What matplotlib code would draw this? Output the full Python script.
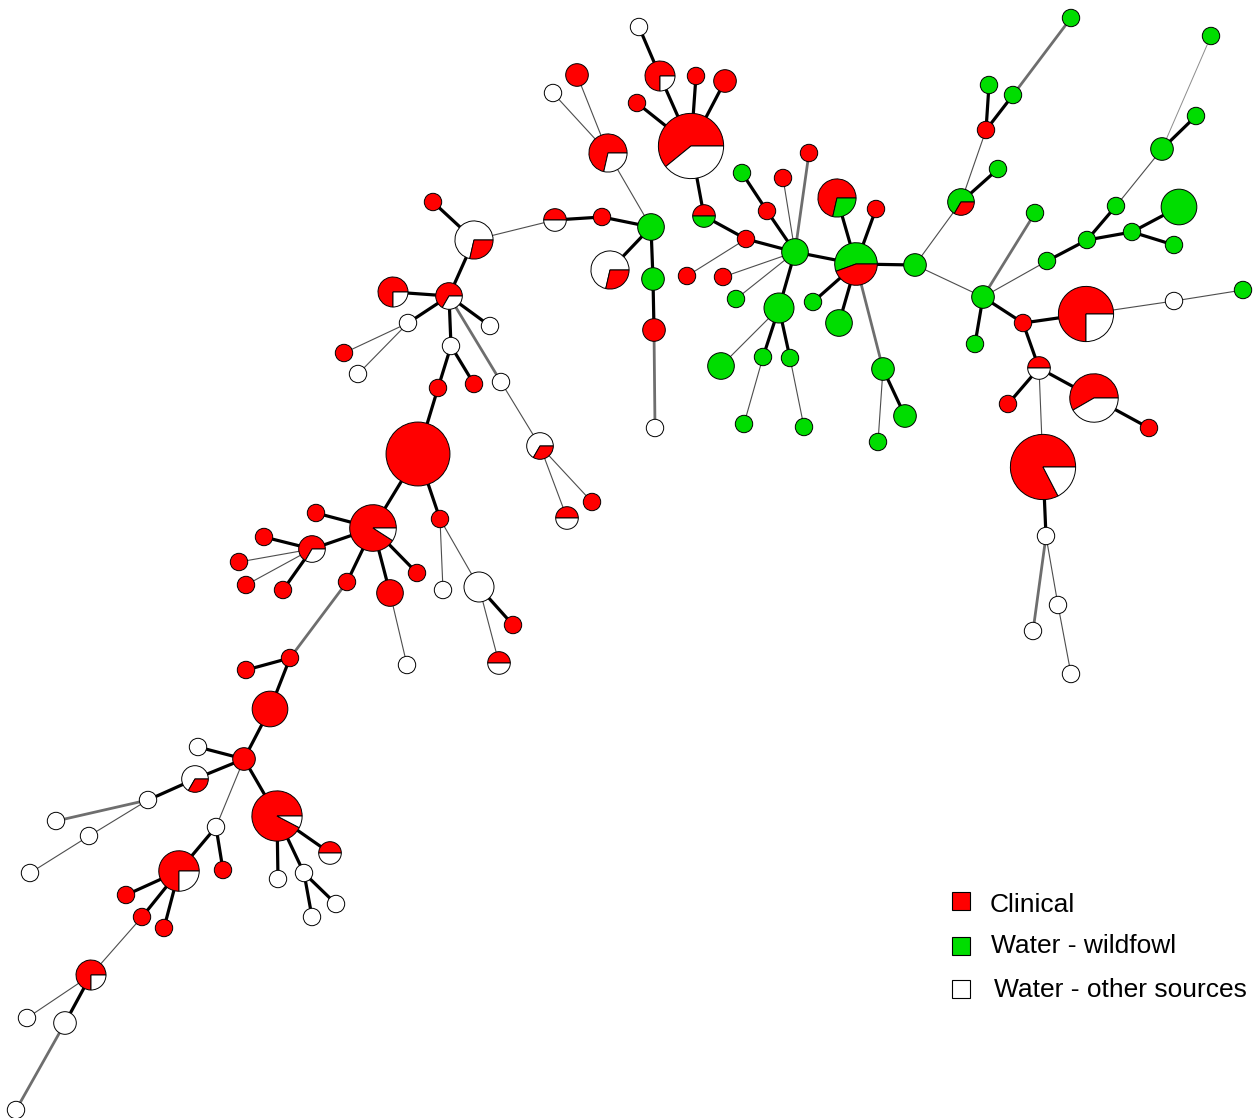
import matplotlib
matplotlib.use("Agg")
import matplotlib.pyplot as plt
from matplotlib.patches import Wedge, Circle, Rectangle
import numpy as np

# sequence types: id, layout position (y grows downward) and isolate counts per source
node_id = ["A1", "A2", "A3", "A4", "A5", "A6", "A7", "A8", "A9", "A10",
           "A11", "A12", "A13", "A14", "A15", "A16", "A17", "A18", "G1", "A19",
           "A20", "A22", "A23", "A24", "A25", "B1", "B2", "B3", "B4", "B5",
           "B6", "B7", "H1", "H2", "B8", "B9", "B10", "B11", "B12", "B13",
           "B14", "B15", "B16", "B17", "B18", "B19", "B20", "B21", "B22", "B23",
           "B24", "B25", "B26", "C1", "C2", "C3", "C4", "C5", "C6", "C7",
           "C8", "C9", "C10", "C11", "C12", "C13", "C14", "C15", "C16", "C17",
           "C18", "C19", "C20", "C21", "C22", "C23", "C24", "D1", "D2", "D3",
           "D4", "D5", "D6", "D7", "D8", "D9", "D10", "D11", "D12", "D13",
           "D14", "D15", "D16", "D17", "D18", "D19", "D20", "D21", "D22", "D23",
           "D24", "D25", "D26", "D27", "E1", "E2", "E3", "E4", "E5", "E6",
           "E7", "E8", "E9", "E10", "E11", "E12", "E13", "E14", "E15", "E16",
           "E17", "F1", "F2", "F3", "F4", "F5", "F6", "F7", "F8", "F9"]

node_x = [639, 660, 696, 725, 637, 691, 577, 553, 608, 433,
          474, 555, 602, 651, 704, 610, 653, 654, 655, 687,
          723, 393, 449, 408, 490, 344, 358, 451, 438, 474,
          501, 540, 567, 592, 418, 373, 316, 312, 264, 239,
          246, 283, 347, 390, 417, 440, 443, 479, 513, 499,
          407, 290, 246, 270, 244, 198, 195, 148, 56, 89,
          30, 216, 277, 330, 278, 304, 336, 312, 179, 223,
          126, 142, 164, 91, 27, 65, 16, 746, 742, 767,
          783, 809, 795, 837, 876, 856, 915, 736, 779, 813,
          839, 721, 763, 790, 744, 804, 883, 905, 878, 983,
          975, 961, 998, 986, 1071, 989, 1013, 1035, 1211, 1196,
          1162, 1116, 1179, 1132, 1087, 1174, 1047, 1023, 1086, 1174,
          1243, 1039, 1008, 1094, 1149, 1043, 1046, 1033, 1058, 1071]

node_y = [27, 76, 76, 81, 103, 146, 75, 93, 153, 202,
          240, 220, 217, 227, 216, 270, 279, 330, 428, 276,
          277, 292, 296, 323, 326, 353, 374, 346, 388, 384,
          382, 446, 518, 502, 454, 528, 513, 549, 537, 562,
          585, 590, 582, 593, 573, 519, 590, 587, 625, 663,
          665, 658, 670, 709, 759, 747, 779, 800, 821, 836,
          873, 827, 816, 853, 879, 873, 904, 917, 871, 870,
          895, 917, 928, 975, 1018, 1023, 1110, 239, 173, 211,
          178, 153, 252, 198, 209, 264, 265, 299, 308, 302,
          323, 366, 357, 358, 424, 427, 369, 416, 442, 297,
          344, 202, 169, 130, 18, 85, 95, 213, 36, 116,
          149, 206, 207, 232, 240, 245, 261, 323, 314, 301,
          290, 368, 404, 398, 428, 467, 536, 631, 605, 674]

clinical = [0, 3, 1, 2, 1, 14, 2, 0, 5, 1,
            2, 1, 1, 0, 1, 2, 0, 2, 0, 1,
            1, 3, 2, 0, 0, 1, 0, 0, 1, 1,
            0, 1, 1, 1, 22, 10, 1, 2, 1, 1,
            1, 1, 1, 3, 1, 1, 0, 0, 1, 1,
            0, 1, 1, 6, 2, 0, 1, 0, 0, 0,
            0, 0, 12, 1, 0, 0, 0, 0, 6, 1,
            1, 1, 1, 3, 0, 0, 0, 1, 0, 1,
            1, 1, 0, 5, 1, 4, 0, 0, 0, 0,
            0, 0, 0, 0, 0, 0, 0, 0, 0, 0,
            0, 1, 0, 1, 0, 0, 0, 0, 0, 0,
            0, 0, 0, 0, 0, 0, 0, 1, 12, 0,
            0, 1, 1, 7, 1, 19, 0, 0, 0, 0]

wildfowl = [0, 0, 0, 0, 0, 0, 0, 0, 0, 0,
            0, 0, 0, 3, 1, 0, 2, 0, 0, 0,
            0, 0, 0, 0, 0, 0, 0, 0, 0, 0,
            0, 0, 0, 0, 0, 0, 0, 0, 0, 0,
            0, 0, 0, 0, 0, 0, 0, 0, 0, 0,
            0, 0, 0, 0, 0, 0, 0, 0, 0, 0,
            0, 0, 0, 0, 0, 0, 0, 0, 0, 0,
            0, 0, 0, 0, 0, 0, 0, 0, 1, 0,
            0, 0, 3, 2, 0, 5, 2, 1, 4, 1,
            3, 3, 1, 1, 1, 1, 2, 2, 1, 2,
            1, 2, 1, 0, 1, 1, 1, 1, 1, 1,
            2, 1, 6, 1, 1, 1, 1, 0, 0, 0,
            1, 0, 0, 0, 0, 0, 0, 0, 0, 0]

other = [1, 1, 0, 0, 0, 9, 0, 1, 2, 0,
         5, 1, 0, 0, 0, 5, 0, 0, 1, 0,
         0, 1, 1, 1, 1, 0, 1, 1, 0, 0,
         1, 2, 1, 0, 0, 1, 0, 1, 0, 0,
         0, 0, 0, 0, 0, 0, 1, 4, 0, 1,
         1, 0, 0, 0, 0, 1, 2, 1, 1, 1,
         1, 1, 1, 1, 1, 1, 1, 1, 2, 0,
         0, 0, 0, 1, 1, 2, 1, 0, 0, 0,
         0, 0, 0, 0, 0, 0, 0, 0, 0, 0,
         0, 0, 0, 0, 0, 0, 0, 0, 0, 0,
         0, 0, 0, 0, 0, 0, 0, 0, 0, 0,
         0, 0, 0, 0, 0, 0, 0, 0, 4, 1,
         0, 1, 0, 5, 0, 4, 1, 1, 1, 1]

# tree links; diff: 1 = single locus variant, 2 = double, 3 = more, 4 = distant
edge_a = ["A1", "A2", "A3", "A4", "A5", "A6", "A7", "A8", "A9", "A14",
          "A13", "A12", "A10", "A11", "A22", "A23", "A24", "A24", "A23", "A23",
          "B3", "B3", "A23", "B6", "B7", "B7", "B4", "B8", "B8", "B9",
          "B9", "B9", "B9", "B9", "B11", "B11", "B11", "B11", "B19", "B19",
          "B21", "B21", "B17", "B16", "B25", "B25", "C1", "C2", "C2", "C4",
          "C5", "C5", "C7", "C2", "C2", "C10", "C10", "C10", "C13", "C13",
          "C9", "C9", "C16", "C16", "C16", "C19", "C21", "C21", "C23", "A14",
          "A14", "A17", "A18", "A15", "D1", "D2", "D3", "D4", "D5", "A19",
          "D6", "D6", "D6", "D6", "D7", "D8", "D9", "D9", "D9", "D9",
          "D12", "D12", "D12", "D16", "D17", "D20", "D20", "D10", "D10", "D25",
          "D25", "D27", "D27", "E3", "D23", "D23", "D23", "E13", "E11", "E8",
          "E7", "E7", "E11", "E10", "E10", "D23", "E14", "E15", "E16", "E14",
          "F1", "F1", "F3", "F1", "F5", "F6", "F6", "F8"]
edge_b = ["A2", "A6", "A6", "A6", "A6", "A15", "A9", "A9", "A14", "A13",
          "A12", "A11", "A11", "A23", "A23", "A24", "B1", "B2", "A25", "B3",
          "B4", "B5", "B6", "B7", "H1", "H2", "B8", "B9", "B19", "B10",
          "B11", "B16", "B17", "B18", "B12", "B13", "B14", "B15", "B20", "B21",
          "B22", "B23", "B24", "B25", "B26", "C1", "C2", "C3", "C4", "C5",
          "C6", "C7", "C8", "C9", "C10", "C11", "C12", "C13", "C14", "C15",
          "C16", "C17", "C18", "C19", "C20", "C21", "C22", "C23", "C24", "A16",
          "A17", "A18", "G1", "D1", "D6", "D3", "D6", "D6", "D6", "D1",
          "A20", "D11", "D9", "D12", "D9", "D9", "D10", "D13", "D14", "D20",
          "D15", "D16", "D17", "D18", "D19", "D21", "D22", "D25", "D23", "D26",
          "D27", "E2", "E3", "E1", "D24", "E4", "E13", "E11", "E8", "E7",
          "E6", "E5", "E10", "E9", "E12", "E14", "E15", "E16", "E17", "F1",
          "F2", "F3", "F4", "F5", "F6", "F7", "F8", "F9"]
edge_diff = [1, 1, 1, 1, 1, 1, 3, 3, 3, 1,
             1, 3, 1, 1, 1, 1, 3, 3, 1, 1,
             1, 1, 2, 3, 3, 3, 1, 1, 1, 1,
             1, 1, 1, 1, 1, 3, 3, 1, 3, 3,
             1, 3, 3, 2, 1, 1, 1, 1, 1, 1,
             2, 3, 3, 3, 1, 1, 1, 1, 1, 1,
             1, 1, 1, 1, 1, 3, 3, 1, 2, 1,
             1, 1, 2, 1, 1, 1, 1, 3, 2, 3,
             3, 3, 1, 1, 1, 1, 1, 1, 1, 2,
             3, 1, 1, 3, 3, 1, 3, 3, 3, 1,
             3, 1, 1, 2, 1, 2, 3, 1, 1, 3,
             1, 4, 1, 1, 1, 1, 1, 3, 3, 1,
             1, 1, 1, 3, 1, 2, 3, 3]

source_names = ["Clinical", "Water - wildfowl", "Water - other sources"]
source_colors = ["#ff0000", "#00dd00", "#ffffff"]

edge_style = {1: ("black", 2.3), 2: ("#6e6e6e", 2.0),
              3: ("#4d4d4d", 0.8), 4: ("#8c8c8c", 0.7)}


def node_radius(n):
    return 6.3 * np.sqrt(n) + 2.4


plt.rcParams['font.family'] = ['Liberation Sans', 'DejaVu Sans']

fig = plt.figure(figsize=(12.55, 11.18), dpi=100)
ax = fig.add_axes([0, 0, 1, 1])
ax.set_xlim(0, 1255)
ax.set_ylim(1118, 0)
ax.axis('off')

pos = {k: (x, y) for k, x, y in zip(node_id, node_x, node_y)}

for a, b, d in zip(edge_a, edge_b, edge_diff):
    col, lw = edge_style[d]
    (x1, y1), (x2, y2) = pos[a], pos[b]
    ax.plot([x1, x2], [y1, y2], color=col, lw=lw, zorder=1,
            solid_capstyle='butt')

for i, k in enumerate(node_id):
    counts = [clinical[i], wildfowl[i], other[i]]
    total = sum(counts)
    r = node_radius(total)
    x, y = pos[k]
    # biggest share first, counter-clockwise from 3 o'clock
    parts = sorted(zip(counts, source_colors), key=lambda p: -p[0])
    parts = [p for p in parts if p[0] > 0]
    if len(parts) == 1:
        ax.add_patch(Circle((x, y), r, fc=parts[0][1], ec='black',
                            lw=0.7, zorder=3))
        continue
    start = 0.0
    for cnt, col in parts:
        sweep = 360.0 * cnt / total
        # y axis is flipped, so screen angles are negated
        ax.add_patch(Wedge((x, y), r, -(start + sweep), -start, fc=col,
                           ec='black', lw=0.7, zorder=3))
        start += sweep

# legend
leg_y = [892, 937, 980]
txt_base = [912, 953, 997]
txt_x = [990, 991, 994]
for name, col, ly, ty, tx in zip(source_names, source_colors, leg_y, txt_base, txt_x):
    ax.add_patch(Rectangle((952, ly), 18, 18, fc=col, ec='black', lw=0.8))
    ax.text(tx, ty, name, fontsize=19, va='baseline', ha='left')

fig.savefig("out.png", dpi=100, facecolor='white')
